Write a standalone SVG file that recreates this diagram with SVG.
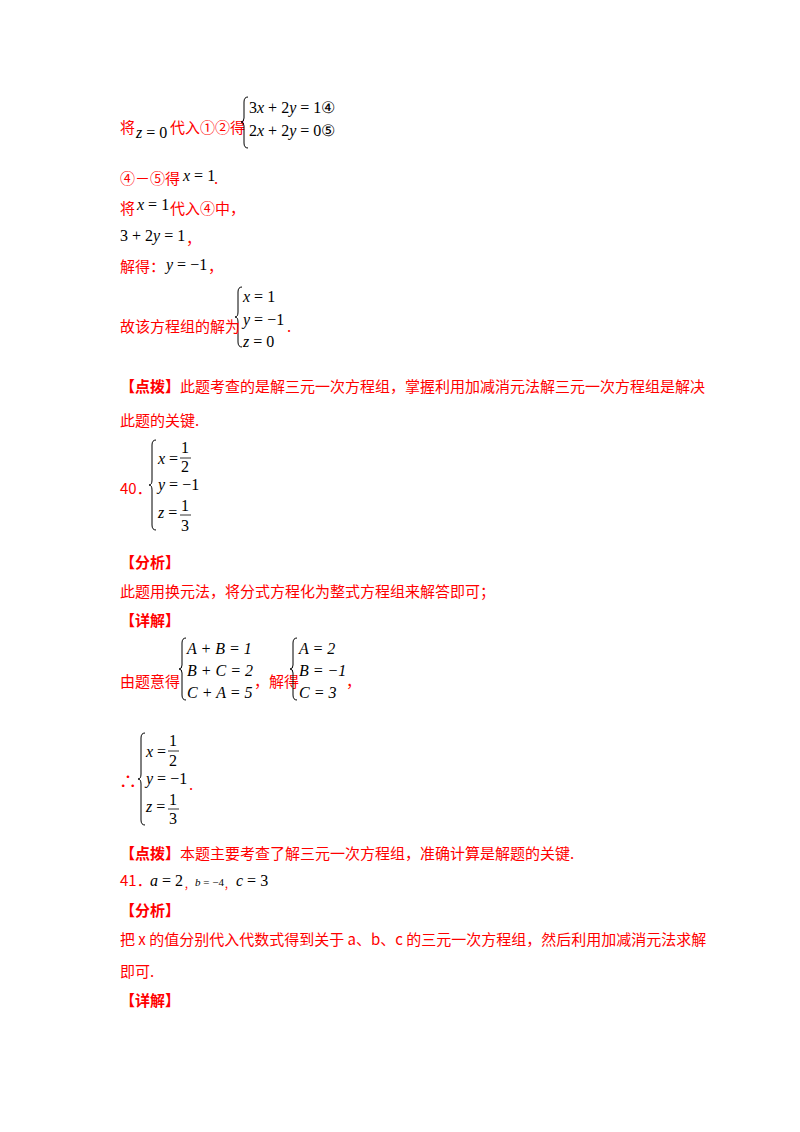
<svg xmlns="http://www.w3.org/2000/svg" width="800" height="1132" viewBox="0 0 800 1132">
<style>
.r{fill:#f00;font-family:"Noto Sans CJK SC","Liberation Serif",serif;font-size:15px}
.b{font-weight:bold}
.m{fill:#000;font-family:"Liberation Serif",serif;font-size:16px}
.i{font-style:italic}
.br{fill:none;stroke:#000;stroke-width:1}
.fl{stroke:#000;stroke-width:0.8}
</style>
<rect width="800" height="1132" fill="#fff"/>
<g id="line1">
<text class="r" x="120" y="133">将</text>
<text class="m" x="136" y="138"><tspan class="i">z</tspan> = 0</text>
<text class="r" x="170" y="133">代入①②得</text>
<path class="br" d="M248,97 Q244,97 244,102 L244,118 Q244,122 241,122 Q244,122 244,126 L244,143 Q244,148 248,148"/>
<text class="m" x="249" y="113">3<tspan class="i">x</tspan> + 2<tspan class="i">y</tspan> = 1④</text>
<text class="m" x="249" y="136">2<tspan class="i">x</tspan> + 2<tspan class="i">y</tspan> = 0⑤</text>
</g>
<g id="line2">
<text class="r" x="120" y="184">④－⑤得</text>
<text class="m" x="183" y="181"><tspan class="i">x</tspan> = 1</text>
<text class="r" x="214" y="184">.</text>
<text class="r" x="120" y="214">将</text>
<text class="m" x="137" y="210"><tspan class="i">x</tspan> = 1</text>
<text class="r" x="170" y="214">代入④中，</text>
<text class="m" x="120" y="241">3 + 2<tspan class="i">y</tspan> = 1</text>
<text class="r" x="186" y="244">，</text>
<text class="r" x="120" y="272">解得：</text>
<text class="m" x="166" y="270"><tspan class="i">y</tspan> = −1</text>
<text class="r" x="208" y="272">，</text>
<path class="br" d="M242,287 Q238,287 238,292 L238,312 Q238,317 235,317 Q238,317 238,322 L238,342 Q238,347 242,347"/>
<text class="m" x="243" y="302"><tspan class="i">x</tspan> = 1</text>
<text class="m" x="243" y="325"><tspan class="i">y</tspan> = −1</text>
<text class="m" x="243" y="347"><tspan class="i">z</tspan> = 0</text>
<text class="r" x="120" y="332">故该方程组的解为</text>
<text class="r" x="287" y="332">.</text>
</g>
<g id="note1">
<text class="r" x="120" y="392"><tspan class="b">【点拨】</tspan>此题考查的是解三元一次方程组，掌握利用加减消元法解三元一次方程组是解决</text>
<text class="r" x="120" y="426">此题的关键.</text>
</g>
<g id="q40">
<text class="r" x="120" y="494">40．</text>
<path class="br" d="M156,440 Q152,440 152,445 L152,480 Q152,485 149,485 Q152,485 152,490 L152,525 Q152,530 156,530"/>
<text class="m" x="158" y="464"><tspan class="i">x</tspan> =</text>
<text class="m" x="181" y="453">1</text><line class="fl" x1="180" y1="458" x2="191" y2="458"/><text class="m" x="181" y="472">2</text>
<text class="m" x="158" y="490"><tspan class="i">y</tspan> = −1</text>
<text class="m" x="158" y="518"><tspan class="i">z</tspan> =</text>
<text class="m" x="181" y="511">1</text><line class="fl" x1="180" y1="515" x2="191" y2="515"/><text class="m" x="181" y="531">3</text>
<text class="r b" x="120" y="568">【分析】</text>
<text class="r" x="120" y="597">此题用换元法，将分式方程化为整式方程组来解答即可；</text>
<text class="r b" x="120" y="626">【详解】</text>
<text class="r" x="120" y="687">由题意得</text>
<path class="br" d="M186,638 Q182,638 182,643 L182,665 Q182,669 179,669 Q182,669 182,673 L182,695 Q182,700 186,700"/>
<text class="m i" x="187" y="654">A + B = 1</text>
<text class="m i" x="187" y="676">B + C = 2</text>
<text class="m i" x="187" y="698">C + A = 5</text>
<text class="r" x="254" y="687">，解得</text>
<path class="br" d="M297,638 Q293,638 293,643 L293,665 Q293,669 290,669 Q293,669 293,673 L293,695 Q293,700 297,700"/>
<text class="m i" x="299" y="654">A = 2</text>
<text class="m i" x="299" y="676">B = −1</text>
<text class="m i" x="299" y="698">C = 3</text>
<text class="r" x="346" y="687">，</text>
<text class="r" x="119" y="788" style="font-size:18px">∴</text>
<path class="br" d="M145,733 Q141,733 141,738 L141,774 Q141,779 138,779 Q141,779 141,784 L141,820 Q141,825 145,825"/>
<text class="m" x="146" y="757"><tspan class="i">x</tspan> =</text>
<text class="m" x="169" y="746">1</text><line class="fl" x1="168" y1="751" x2="179" y2="751"/><text class="m" x="169" y="766">2</text>
<text class="m" x="146" y="784"><tspan class="i">y</tspan> = −1</text>
<text class="m" x="146" y="812"><tspan class="i">z</tspan> =</text>
<text class="m" x="169" y="805">1</text><line class="fl" x1="168" y1="809" x2="179" y2="809"/><text class="m" x="169" y="824">3</text>
<text class="r" x="189" y="790">.</text>
<text class="r" x="120" y="859"><tspan class="b">【点拨】</tspan>本题主要考查了解三元一次方程组，准确计算是解题的关键.</text>
</g>
<g id="q41">
<text class="r" x="120" y="886">41．</text>
<text class="m" x="150" y="886"><tspan class="i">a</tspan> = 2</text>
<text class="r" x="184" y="889" style="font-size:10px">，</text>
<text class="m" x="195" y="886" style="font-size:11px"><tspan class="i">b</tspan> = −4</text>
<text class="r" x="224" y="889" style="font-size:10px">，</text>
<text class="m" x="236" y="886"><tspan class="i">c</tspan> = 3</text>
<text class="r b" x="120" y="916">【分析】</text>
<text class="r" x="120" y="945">把 x 的值分别代入代数式得到关于 a、b、c 的三元一次方程组，然后利用加减消元法求解</text>
<text class="r" x="120" y="977">即可.</text>
<text class="r b" x="120" y="1006">【详解】</text>
</g>
</svg>
